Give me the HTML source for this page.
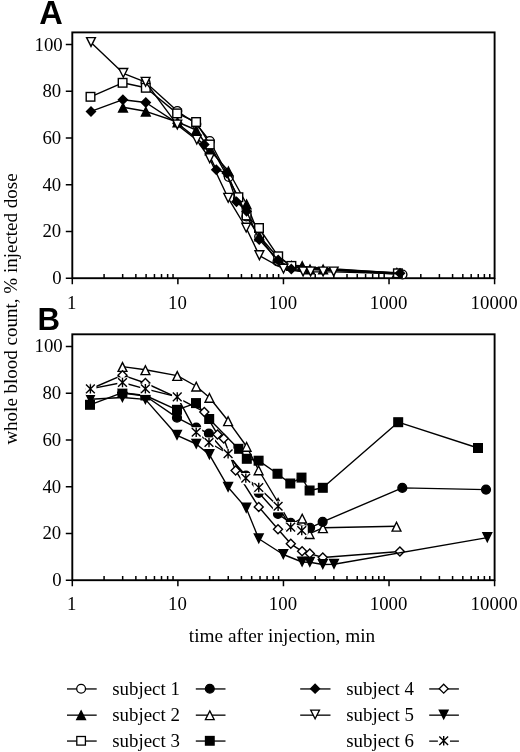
<!DOCTYPE html>
<html><head><meta charset="utf-8"><title>Figure</title>
<style>html,body{margin:0;padding:0;background:#fff}svg{display:block;will-change:transform}</style>
</head><body>
<svg width="520" height="752" viewBox="0 0 520 752">
<rect width="520" height="752" fill="#fff"/>
<rect x="72.3" y="32.4" width="422.3" height="245.8" fill="none" stroke="#000" stroke-width="1.9"/>
<rect x="72.3" y="334.3" width="422.3" height="245.9" fill="none" stroke="#000" stroke-width="1.9"/>
<path d="M72.3 278.2V284.2M104.08 278.2V274M122.67 278.2V274M135.86 278.2V274M146.09 278.2V274M154.45 278.2V274M161.52 278.2V274M167.64 278.2V274M173.04 278.2V274M177.88 278.2V284.2M209.66 278.2V274M228.25 278.2V274M241.44 278.2V274M251.67 278.2V274M260.03 278.2V274M267.1 278.2V274M273.22 278.2V274M278.62 278.2V274M283.45 278.2V284.2M315.23 278.2V274M333.82 278.2V274M347.01 278.2V274M357.24 278.2V274M365.6 278.2V274M372.67 278.2V274M378.79 278.2V274M384.19 278.2V274M389.03 278.2V284.2M420.81 278.2V274M439.4 278.2V274M452.59 278.2V274M462.82 278.2V274M471.18 278.2V274M478.25 278.2V274M484.37 278.2V274M489.77 278.2V274M494.6 278.2V284.2M65.8 278.2H72.3M65.8 231.48H72.3M65.8 184.76H72.3M65.8 138.04H72.3M65.8 91.32H72.3M65.8 44.6H72.3M72.3 580.2V586.2M104.08 580.2V576M122.67 580.2V576M135.86 580.2V576M146.09 580.2V576M154.45 580.2V576M161.52 580.2V576M167.64 580.2V576M173.04 580.2V576M177.88 580.2V586.2M209.66 580.2V576M228.25 580.2V576M241.44 580.2V576M251.67 580.2V576M260.03 580.2V576M267.1 580.2V576M273.22 580.2V576M278.62 580.2V576M283.45 580.2V586.2M315.23 580.2V576M333.82 580.2V576M347.01 580.2V576M357.24 580.2V576M365.6 580.2V576M372.67 580.2V576M378.79 580.2V576M384.19 580.2V576M389.03 580.2V586.2M420.81 580.2V576M439.4 580.2V576M452.59 580.2V576M462.82 580.2V576M471.18 580.2V576M478.25 580.2V576M484.37 580.2V576M489.77 580.2V576M494.6 580.2V586.2M65.8 580.2H72.3M65.8 533.44H72.3M65.8 486.68H72.3M65.8 439.92H72.3M65.8 393.16H72.3M65.8 346.4H72.3" fill="none" stroke="#000" stroke-width="1.5"/>
<g style="font-family:'Liberation Serif',serif;font-size:18.8px;fill:#000">
<text x="61.7" y="284.2" text-anchor="end">0</text>
<text x="61.2" y="237.48" text-anchor="end">20</text>
<text x="61.2" y="190.76" text-anchor="end">40</text>
<text x="61.2" y="144.04" text-anchor="end">60</text>
<text x="61.2" y="97.32" text-anchor="end">80</text>
<text x="62.7" y="50.6" text-anchor="end">100</text>
<text x="71.8" y="308.8" text-anchor="middle">1</text>
<text x="177.38" y="308.8" text-anchor="middle">10</text>
<text x="282.95" y="308.8" text-anchor="middle">100</text>
<text x="388.53" y="308.8" text-anchor="middle">1000</text>
<text x="494.1" y="308.8" text-anchor="middle">10000</text>
<text x="61.7" y="586.2" text-anchor="end">0</text>
<text x="61.2" y="539.44" text-anchor="end">20</text>
<text x="61.2" y="492.68" text-anchor="end">40</text>
<text x="61.2" y="445.92" text-anchor="end">60</text>
<text x="61.2" y="399.16" text-anchor="end">80</text>
<text x="62.7" y="352.4" text-anchor="end">100</text>
<text x="71.8" y="609.9" text-anchor="middle">1</text>
<text x="177.38" y="609.9" text-anchor="middle">10</text>
<text x="282.95" y="609.9" text-anchor="middle">100</text>
<text x="388.53" y="609.9" text-anchor="middle">1000</text>
<text x="494.1" y="609.9" text-anchor="middle">10000</text>
<text x="282" y="642" text-anchor="middle" style="font-size:19.3px">time after injection, min</text>
<text transform="translate(16.6 309) rotate(-90)" text-anchor="middle" style="font-size:19px">whole blood count, % injected dose</text>
</g>
<g style="font-family:'Liberation Sans',sans-serif;font-weight:bold;font-size:31.5px;fill:#000">
<text x="39.2" y="24.1" style="font-size:32.6px">A</text>
<text x="37.4" y="330" style="font-size:31.2px">B</text>
</g>
<g>
<polyline points="145.5,82.3 177.3,111 196.3,124 209.8,141 228.8,177 238,199 246.4,216.5 259.2,236.5 277.5,261.5 291.5,267 402.5,274.5" fill="none" stroke="#000" stroke-width="1.4" stroke-linejoin="round"/><circle cx="145.5" cy="82.3" r="4.4" fill="#fff" stroke="#000" stroke-width="1.4"/><circle cx="177.3" cy="111" r="4.4" fill="#fff" stroke="#000" stroke-width="1.4"/><circle cx="196.3" cy="124" r="4.4" fill="#fff" stroke="#000" stroke-width="1.4"/><circle cx="209.8" cy="141" r="4.4" fill="#fff" stroke="#000" stroke-width="1.4"/><circle cx="228.8" cy="177" r="4.4" fill="#fff" stroke="#000" stroke-width="1.4"/><circle cx="238" cy="199" r="4.4" fill="#fff" stroke="#000" stroke-width="1.4"/><circle cx="246.4" cy="216.5" r="4.4" fill="#fff" stroke="#000" stroke-width="1.4"/><circle cx="259.2" cy="236.5" r="4.4" fill="#fff" stroke="#000" stroke-width="1.4"/><circle cx="277.5" cy="261.5" r="4.4" fill="#fff" stroke="#000" stroke-width="1.4"/><circle cx="291.5" cy="267" r="4.4" fill="#fff" stroke="#000" stroke-width="1.4"/><circle cx="402.5" cy="274.5" r="4.4" fill="#fff" stroke="#000" stroke-width="1.4"/>

<polyline points="123,107.2 145.8,111.3 177.5,122 196.2,130 209.8,150 228.4,171 246.6,204 259.3,236 278.3,258 291.4,265.5 302.2,265.7 310,269 323.1,269 396.9,272.6" fill="none" stroke="#000" stroke-width="1.4" stroke-linejoin="round"/><path d="M123 103.2L127.4 112L118.6 112Z" fill="#000" stroke="#000" stroke-width="1.4" stroke-linejoin="miter"/><path d="M145.8 107.3L150.2 116.1L141.4 116.1Z" fill="#000" stroke="#000" stroke-width="1.4" stroke-linejoin="miter"/><path d="M177.5 118L181.9 126.8L173.1 126.8Z" fill="#000" stroke="#000" stroke-width="1.4" stroke-linejoin="miter"/><path d="M196.2 126L200.6 134.8L191.8 134.8Z" fill="#000" stroke="#000" stroke-width="1.4" stroke-linejoin="miter"/><path d="M209.8 146L214.2 154.8L205.4 154.8Z" fill="#000" stroke="#000" stroke-width="1.4" stroke-linejoin="miter"/><path d="M228.4 167L232.8 175.8L224 175.8Z" fill="#000" stroke="#000" stroke-width="1.4" stroke-linejoin="miter"/><path d="M246.6 200L251 208.8L242.2 208.8Z" fill="#000" stroke="#000" stroke-width="1.4" stroke-linejoin="miter"/><path d="M259.3 232L263.7 240.8L254.9 240.8Z" fill="#000" stroke="#000" stroke-width="1.4" stroke-linejoin="miter"/><path d="M278.3 254L282.7 262.8L273.9 262.8Z" fill="#000" stroke="#000" stroke-width="1.4" stroke-linejoin="miter"/><path d="M291.4 261.5L295.8 270.3L287 270.3Z" fill="#000" stroke="#000" stroke-width="1.4" stroke-linejoin="miter"/><path d="M302.2 261.7L306.6 270.5L297.8 270.5Z" fill="#000" stroke="#000" stroke-width="1.4" stroke-linejoin="miter"/><path d="M310 265L314.4 273.8L305.6 273.8Z" fill="#000" stroke="#000" stroke-width="1.4" stroke-linejoin="miter"/><path d="M323.1 265L327.5 273.8L318.7 273.8Z" fill="#000" stroke="#000" stroke-width="1.4" stroke-linejoin="miter"/><path d="M396.9 268.6L401.3 277.4L392.5 277.4Z" fill="#000" stroke="#000" stroke-width="1.4" stroke-linejoin="miter"/>

<polyline points="90.5,96.8 122.6,82.8 145.8,87.8 177.1,113.4 196.1,122 209.8,144.5 238.4,197.2 246.6,215.5 259,228 278.2,256.3 291.4,265.9 397.9,273.3" fill="none" stroke="#000" stroke-width="1.4" stroke-linejoin="round"/><rect x="86.2" y="92.5" width="8.6" height="8.6" fill="#fff" stroke="#000" stroke-width="1.4"/><rect x="118.3" y="78.5" width="8.6" height="8.6" fill="#fff" stroke="#000" stroke-width="1.4"/><rect x="141.5" y="83.5" width="8.6" height="8.6" fill="#fff" stroke="#000" stroke-width="1.4"/><rect x="172.8" y="109.1" width="8.6" height="8.6" fill="#fff" stroke="#000" stroke-width="1.4"/><rect x="191.8" y="117.7" width="8.6" height="8.6" fill="#fff" stroke="#000" stroke-width="1.4"/><rect x="205.5" y="140.2" width="8.6" height="8.6" fill="#fff" stroke="#000" stroke-width="1.4"/><rect x="234.1" y="192.9" width="8.6" height="8.6" fill="#fff" stroke="#000" stroke-width="1.4"/><rect x="242.3" y="211.2" width="8.6" height="8.6" fill="#fff" stroke="#000" stroke-width="1.4"/><rect x="254.7" y="223.7" width="8.6" height="8.6" fill="#fff" stroke="#000" stroke-width="1.4"/><rect x="273.9" y="252" width="8.6" height="8.6" fill="#fff" stroke="#000" stroke-width="1.4"/><rect x="287.1" y="261.6" width="8.6" height="8.6" fill="#fff" stroke="#000" stroke-width="1.4"/><rect x="393.6" y="269" width="8.6" height="8.6" fill="#fff" stroke="#000" stroke-width="1.4"/>

<polyline points="91,111.4 122.9,99.7 145.8,102.5 177.5,123.3 204.2,144.6 216.3,169.7 226.8,173 236.5,201.8 246.6,211.3 259.2,239.6 278.2,260.1 291.3,268.9 400,273.2" fill="none" stroke="#000" stroke-width="1.4" stroke-linejoin="round"/><path d="M91 106.9L95.5 111.4L91 115.9L86.5 111.4Z" fill="#000" stroke="#000" stroke-width="1.4"/><path d="M122.9 95.2L127.4 99.7L122.9 104.2L118.4 99.7Z" fill="#000" stroke="#000" stroke-width="1.4"/><path d="M145.8 98L150.3 102.5L145.8 107L141.3 102.5Z" fill="#000" stroke="#000" stroke-width="1.4"/><path d="M177.5 118.8L182 123.3L177.5 127.8L173 123.3Z" fill="#000" stroke="#000" stroke-width="1.4"/><path d="M204.2 140.1L208.7 144.6L204.2 149.1L199.7 144.6Z" fill="#000" stroke="#000" stroke-width="1.4"/><path d="M216.3 165.2L220.8 169.7L216.3 174.2L211.8 169.7Z" fill="#000" stroke="#000" stroke-width="1.4"/><path d="M226.8 168.5L231.3 173L226.8 177.5L222.3 173Z" fill="#000" stroke="#000" stroke-width="1.4"/><path d="M236.5 197.3L241 201.8L236.5 206.3L232 201.8Z" fill="#000" stroke="#000" stroke-width="1.4"/><path d="M246.6 206.8L251.1 211.3L246.6 215.8L242.1 211.3Z" fill="#000" stroke="#000" stroke-width="1.4"/><path d="M259.2 235.1L263.7 239.6L259.2 244.1L254.7 239.6Z" fill="#000" stroke="#000" stroke-width="1.4"/><path d="M278.2 255.6L282.7 260.1L278.2 264.6L273.7 260.1Z" fill="#000" stroke="#000" stroke-width="1.4"/><path d="M291.3 264.4L295.8 268.9L291.3 273.4L286.8 268.9Z" fill="#000" stroke="#000" stroke-width="1.4"/><path d="M400 268.7L404.5 273.2L400 277.7L395.5 273.2Z" fill="#000" stroke="#000" stroke-width="1.4"/>

<polyline points="91,42.4 123.3,73.3 145.6,82.2 177.3,124.9 196.8,140 209.7,158.7 228.2,198.2 246.2,228 259.4,255.6 283.5,269 303.1,271.9 310.6,271.9 323.1,271.9 333.7,271.9 398.5,273.8" fill="none" stroke="#000" stroke-width="1.4" stroke-linejoin="round"/><path d="M86.6 37.6L95.4 37.6L91 46.4Z" fill="#fff" stroke="#000" stroke-width="1.4" stroke-linejoin="miter"/><path d="M118.9 68.5L127.7 68.5L123.3 77.3Z" fill="#fff" stroke="#000" stroke-width="1.4" stroke-linejoin="miter"/><path d="M141.2 77.4L150 77.4L145.6 86.2Z" fill="#fff" stroke="#000" stroke-width="1.4" stroke-linejoin="miter"/><path d="M172.9 120.1L181.7 120.1L177.3 128.9Z" fill="#fff" stroke="#000" stroke-width="1.4" stroke-linejoin="miter"/><path d="M192.4 135.2L201.2 135.2L196.8 144Z" fill="#fff" stroke="#000" stroke-width="1.4" stroke-linejoin="miter"/><path d="M205.3 153.9L214.1 153.9L209.7 162.7Z" fill="#fff" stroke="#000" stroke-width="1.4" stroke-linejoin="miter"/><path d="M223.8 193.4L232.6 193.4L228.2 202.2Z" fill="#fff" stroke="#000" stroke-width="1.4" stroke-linejoin="miter"/><path d="M241.8 223.2L250.6 223.2L246.2 232Z" fill="#fff" stroke="#000" stroke-width="1.4" stroke-linejoin="miter"/><path d="M255 250.8L263.8 250.8L259.4 259.6Z" fill="#fff" stroke="#000" stroke-width="1.4" stroke-linejoin="miter"/><path d="M279.1 264.2L287.9 264.2L283.5 273Z" fill="#fff" stroke="#000" stroke-width="1.4" stroke-linejoin="miter"/><path d="M298.7 267.1L307.5 267.1L303.1 275.9Z" fill="#fff" stroke="#000" stroke-width="1.4" stroke-linejoin="miter"/><path d="M306.2 267.1L315 267.1L310.6 275.9Z" fill="#fff" stroke="#000" stroke-width="1.4" stroke-linejoin="miter"/><path d="M318.7 267.1L327.5 267.1L323.1 275.9Z" fill="#fff" stroke="#000" stroke-width="1.4" stroke-linejoin="miter"/><path d="M329.3 267.1L338.1 267.1L333.7 275.9Z" fill="#fff" stroke="#000" stroke-width="1.4" stroke-linejoin="miter"/>

</g>
<g>
<polyline points="90,404.8 122.4,392.7 145.4,395.5 177,409.8 196,403.1 209.2,419 238.4,448.8 246.8,458.8 258.6,460.7 277.5,473.75 290.3,483.5 301.5,477.6 309.6,490.5 322.8,487.8 398.2,422.2 478,448" fill="none" stroke="#000" stroke-width="1.4" stroke-linejoin="round"/><rect x="85.7" y="400.5" width="8.6" height="8.6" fill="#000" stroke="#000" stroke-width="1.4"/><rect x="118.1" y="388.4" width="8.6" height="8.6" fill="#000" stroke="#000" stroke-width="1.4"/><rect x="141.1" y="391.2" width="8.6" height="8.6" fill="#000" stroke="#000" stroke-width="1.4"/><rect x="172.7" y="405.5" width="8.6" height="8.6" fill="#000" stroke="#000" stroke-width="1.4"/><rect x="191.7" y="398.8" width="8.6" height="8.6" fill="#000" stroke="#000" stroke-width="1.4"/><rect x="204.9" y="414.7" width="8.6" height="8.6" fill="#000" stroke="#000" stroke-width="1.4"/><rect x="234.1" y="444.5" width="8.6" height="8.6" fill="#000" stroke="#000" stroke-width="1.4"/><rect x="242.5" y="454.5" width="8.6" height="8.6" fill="#000" stroke="#000" stroke-width="1.4"/><rect x="254.3" y="456.4" width="8.6" height="8.6" fill="#000" stroke="#000" stroke-width="1.4"/><rect x="273.2" y="469.45" width="8.6" height="8.6" fill="#000" stroke="#000" stroke-width="1.4"/><rect x="286" y="479.2" width="8.6" height="8.6" fill="#000" stroke="#000" stroke-width="1.4"/><rect x="297.2" y="473.3" width="8.6" height="8.6" fill="#000" stroke="#000" stroke-width="1.4"/><rect x="305.3" y="486.2" width="8.6" height="8.6" fill="#000" stroke="#000" stroke-width="1.4"/><rect x="318.5" y="483.5" width="8.6" height="8.6" fill="#000" stroke="#000" stroke-width="1.4"/><rect x="393.9" y="417.9" width="8.6" height="8.6" fill="#000" stroke="#000" stroke-width="1.4"/><rect x="473.7" y="443.7" width="8.6" height="8.6" fill="#000" stroke="#000" stroke-width="1.4"/>

<polyline points="122.5,366.6 145.4,369.8 177.25,375.6 196.25,386.25 209.4,397.5 228.1,420.8 246.6,446.5 258.6,470 278.1,502.5 290.7,524.5 302.2,518.2 309.6,533.7 322.9,527.8 396.5,526.3" fill="none" stroke="#000" stroke-width="1.4" stroke-linejoin="round"/><path d="M122.5 362.6L126.9 371.4L118.1 371.4Z" fill="#fff" stroke="#000" stroke-width="1.4" stroke-linejoin="miter"/><path d="M145.4 365.8L149.8 374.6L141 374.6Z" fill="#fff" stroke="#000" stroke-width="1.4" stroke-linejoin="miter"/><path d="M177.25 371.6L181.65 380.4L172.85 380.4Z" fill="#fff" stroke="#000" stroke-width="1.4" stroke-linejoin="miter"/><path d="M196.25 382.25L200.65 391.05L191.85 391.05Z" fill="#fff" stroke="#000" stroke-width="1.4" stroke-linejoin="miter"/><path d="M209.4 393.5L213.8 402.3L205 402.3Z" fill="#fff" stroke="#000" stroke-width="1.4" stroke-linejoin="miter"/><path d="M228.1 416.8L232.5 425.6L223.7 425.6Z" fill="#fff" stroke="#000" stroke-width="1.4" stroke-linejoin="miter"/><path d="M246.6 442.5L251 451.3L242.2 451.3Z" fill="#fff" stroke="#000" stroke-width="1.4" stroke-linejoin="miter"/><path d="M258.6 466L263 474.8L254.2 474.8Z" fill="#fff" stroke="#000" stroke-width="1.4" stroke-linejoin="miter"/><path d="M278.1 498.5L282.5 507.3L273.7 507.3Z" fill="#fff" stroke="#000" stroke-width="1.4" stroke-linejoin="miter"/><path d="M290.7 520.5L295.1 529.3L286.3 529.3Z" fill="#fff" stroke="#000" stroke-width="1.4" stroke-linejoin="miter"/><path d="M302.2 514.2L306.6 523L297.8 523Z" fill="#fff" stroke="#000" stroke-width="1.4" stroke-linejoin="miter"/><path d="M309.6 529.7L314 538.5L305.2 538.5Z" fill="#fff" stroke="#000" stroke-width="1.4" stroke-linejoin="miter"/><path d="M322.9 523.8L327.3 532.6L318.5 532.6Z" fill="#fff" stroke="#000" stroke-width="1.4" stroke-linejoin="miter"/><path d="M396.5 522.3L400.9 531.1L392.1 531.1Z" fill="#fff" stroke="#000" stroke-width="1.4" stroke-linejoin="miter"/>

<polyline points="122.4,393 145.4,396 177,417.7 196.25,427.7 208.9,433.5 246,475.7 258.75,492.8 278,514 290.7,522.8 310.1,527.8 322.65,521.8 402.3,487.9 486,489.6" fill="none" stroke="#000" stroke-width="1.4" stroke-linejoin="round"/><circle cx="122.4" cy="393" r="4.4" fill="#000" stroke="#000" stroke-width="1.4"/><circle cx="145.4" cy="396" r="4.4" fill="#000" stroke="#000" stroke-width="1.4"/><circle cx="177" cy="417.7" r="4.4" fill="#000" stroke="#000" stroke-width="1.4"/><circle cx="196.25" cy="427.7" r="4.4" fill="#000" stroke="#000" stroke-width="1.4"/><circle cx="208.9" cy="433.5" r="4.4" fill="#000" stroke="#000" stroke-width="1.4"/><circle cx="246" cy="475.7" r="4.4" fill="#000" stroke="#000" stroke-width="1.4"/><circle cx="258.75" cy="492.8" r="4.4" fill="#000" stroke="#000" stroke-width="1.4"/><circle cx="278" cy="514" r="4.4" fill="#000" stroke="#000" stroke-width="1.4"/><circle cx="290.7" cy="522.8" r="4.4" fill="#000" stroke="#000" stroke-width="1.4"/><circle cx="310.1" cy="527.8" r="4.4" fill="#000" stroke="#000" stroke-width="1.4"/><circle cx="322.65" cy="521.8" r="4.4" fill="#000" stroke="#000" stroke-width="1.4"/><circle cx="402.3" cy="487.9" r="4.4" fill="#000" stroke="#000" stroke-width="1.4"/><circle cx="486" cy="489.6" r="4.4" fill="#000" stroke="#000" stroke-width="1.4"/>

<polyline points="90.4,389 122.5,375.2 145.4,383 177.25,397.6 204.3,411.9 217.5,434.4 223.75,438.5 235.6,470.6 258.75,506.9 278,529.3 290.8,543.8 302.1,551.3 309.8,553.6 322.8,557.5 399.9,551.5" fill="none" stroke="#000" stroke-width="1.4" stroke-linejoin="round"/><path d="M90.4 384.5L94.9 389L90.4 393.5L85.9 389Z" fill="#fff" stroke="#000" stroke-width="1.4"/><path d="M122.5 370.7L127 375.2L122.5 379.7L118 375.2Z" fill="#fff" stroke="#000" stroke-width="1.4"/><path d="M145.4 378.5L149.9 383L145.4 387.5L140.9 383Z" fill="#fff" stroke="#000" stroke-width="1.4"/><path d="M177.25 393.1L181.75 397.6L177.25 402.1L172.75 397.6Z" fill="#fff" stroke="#000" stroke-width="1.4"/><path d="M204.3 407.4L208.8 411.9L204.3 416.4L199.8 411.9Z" fill="#fff" stroke="#000" stroke-width="1.4"/><path d="M217.5 429.9L222 434.4L217.5 438.9L213 434.4Z" fill="#fff" stroke="#000" stroke-width="1.4"/><path d="M223.75 434L228.25 438.5L223.75 443L219.25 438.5Z" fill="#fff" stroke="#000" stroke-width="1.4"/><path d="M235.6 466.1L240.1 470.6L235.6 475.1L231.1 470.6Z" fill="#fff" stroke="#000" stroke-width="1.4"/><path d="M258.75 502.4L263.25 506.9L258.75 511.4L254.25 506.9Z" fill="#fff" stroke="#000" stroke-width="1.4"/><path d="M278 524.8L282.5 529.3L278 533.8L273.5 529.3Z" fill="#fff" stroke="#000" stroke-width="1.4"/><path d="M290.8 539.3L295.3 543.8L290.8 548.3L286.3 543.8Z" fill="#fff" stroke="#000" stroke-width="1.4"/><path d="M302.1 546.8L306.6 551.3L302.1 555.8L297.6 551.3Z" fill="#fff" stroke="#000" stroke-width="1.4"/><path d="M309.8 549.1L314.3 553.6L309.8 558.1L305.3 553.6Z" fill="#fff" stroke="#000" stroke-width="1.4"/><path d="M322.8 553L327.3 557.5L322.8 562L318.3 557.5Z" fill="#fff" stroke="#000" stroke-width="1.4"/><path d="M399.9 547L404.4 551.5L399.9 556L395.4 551.5Z" fill="#fff" stroke="#000" stroke-width="1.4"/>

<polyline points="90.5,399.3 122.4,397.5 145.4,399.4 177,435.3 196.25,444 209.4,454.6 228.1,487.2 246.25,508.1 258.75,538.75 283.3,554.5 302.1,562 309.8,562.3 322.8,564.5 334,564.2 487.3,537.6" fill="none" stroke="#000" stroke-width="1.4" stroke-linejoin="round"/><path d="M86.1 394.5L94.9 394.5L90.5 403.3Z" fill="#000" stroke="#000" stroke-width="1.4" stroke-linejoin="miter"/><path d="M118 392.7L126.8 392.7L122.4 401.5Z" fill="#000" stroke="#000" stroke-width="1.4" stroke-linejoin="miter"/><path d="M141 394.6L149.8 394.6L145.4 403.4Z" fill="#000" stroke="#000" stroke-width="1.4" stroke-linejoin="miter"/><path d="M172.6 430.5L181.4 430.5L177 439.3Z" fill="#000" stroke="#000" stroke-width="1.4" stroke-linejoin="miter"/><path d="M191.85 439.2L200.65 439.2L196.25 448Z" fill="#000" stroke="#000" stroke-width="1.4" stroke-linejoin="miter"/><path d="M205 449.8L213.8 449.8L209.4 458.6Z" fill="#000" stroke="#000" stroke-width="1.4" stroke-linejoin="miter"/><path d="M223.7 482.4L232.5 482.4L228.1 491.2Z" fill="#000" stroke="#000" stroke-width="1.4" stroke-linejoin="miter"/><path d="M241.85 503.3L250.65 503.3L246.25 512.1Z" fill="#000" stroke="#000" stroke-width="1.4" stroke-linejoin="miter"/><path d="M254.35 533.95L263.15 533.95L258.75 542.75Z" fill="#000" stroke="#000" stroke-width="1.4" stroke-linejoin="miter"/><path d="M278.9 549.7L287.7 549.7L283.3 558.5Z" fill="#000" stroke="#000" stroke-width="1.4" stroke-linejoin="miter"/><path d="M297.7 557.2L306.5 557.2L302.1 566Z" fill="#000" stroke="#000" stroke-width="1.4" stroke-linejoin="miter"/><path d="M305.4 557.5L314.2 557.5L309.8 566.3Z" fill="#000" stroke="#000" stroke-width="1.4" stroke-linejoin="miter"/><path d="M318.4 559.7L327.2 559.7L322.8 568.5Z" fill="#000" stroke="#000" stroke-width="1.4" stroke-linejoin="miter"/><path d="M329.6 559.4L338.4 559.4L334 568.2Z" fill="#000" stroke="#000" stroke-width="1.4" stroke-linejoin="miter"/><path d="M482.9 532.8L491.7 532.8L487.3 541.6Z" fill="#000" stroke="#000" stroke-width="1.4" stroke-linejoin="miter"/>

<polyline points="90.4,388.9 122.5,382.5 145.4,388.8 177.25,396.9 196.2,432.3 209,442.5 228.1,453.75 245.8,478.1 258.75,487.5 278.1,506.25 290.7,527.1 301.75,530.5" fill="none" stroke="#000" stroke-width="1.4" stroke-linejoin="round"/><rect x="85.2" y="383.8" width="11.2" height="11.2" fill="#fff"/><path d="M86 384.6L94.8 393.2M86 393.2L94.8 384.6M90.4 384.2L90.4 393.6" fill="none" stroke="#000" stroke-width="1.4"/><rect x="117.3" y="377.4" width="11.2" height="11.2" fill="#fff"/><path d="M118.1 378.2L126.9 386.8M118.1 386.8L126.9 378.2M122.5 377.8L122.5 387.2" fill="none" stroke="#000" stroke-width="1.4"/><rect x="140.2" y="383.7" width="11.2" height="11.2" fill="#fff"/><path d="M141 384.5L149.8 393.1M141 393.1L149.8 384.5M145.4 384.1L145.4 393.5" fill="none" stroke="#000" stroke-width="1.4"/><rect x="172.05" y="391.8" width="11.2" height="11.2" fill="#fff"/><path d="M172.85 392.6L181.65 401.2M172.85 401.2L181.65 392.6M177.25 392.2L177.25 401.6" fill="none" stroke="#000" stroke-width="1.4"/><rect x="191" y="427.2" width="11.2" height="11.2" fill="#fff"/><path d="M191.8 428L200.6 436.6M191.8 436.6L200.6 428M196.2 427.6L196.2 437" fill="none" stroke="#000" stroke-width="1.4"/><rect x="203.8" y="437.4" width="11.2" height="11.2" fill="#fff"/><path d="M204.6 438.2L213.4 446.8M204.6 446.8L213.4 438.2M209 437.8L209 447.2" fill="none" stroke="#000" stroke-width="1.4"/><rect x="222.9" y="448.65" width="11.2" height="11.2" fill="#fff"/><path d="M223.7 449.45L232.5 458.05M223.7 458.05L232.5 449.45M228.1 449.05L228.1 458.45" fill="none" stroke="#000" stroke-width="1.4"/><rect x="240.6" y="473" width="11.2" height="11.2" fill="#fff"/><path d="M241.4 473.8L250.2 482.4M241.4 482.4L250.2 473.8M245.8 473.4L245.8 482.8" fill="none" stroke="#000" stroke-width="1.4"/><rect x="253.55" y="482.4" width="11.2" height="11.2" fill="#fff"/><path d="M254.35 483.2L263.15 491.8M254.35 491.8L263.15 483.2M258.75 482.8L258.75 492.2" fill="none" stroke="#000" stroke-width="1.4"/><rect x="272.9" y="501.15" width="11.2" height="11.2" fill="#fff"/><path d="M273.7 501.95L282.5 510.55M273.7 510.55L282.5 501.95M278.1 501.55L278.1 510.95" fill="none" stroke="#000" stroke-width="1.4"/><rect x="285.5" y="522" width="11.2" height="11.2" fill="#fff"/><path d="M286.3 522.8L295.1 531.4M286.3 531.4L295.1 522.8M290.7 522.4L290.7 531.8" fill="none" stroke="#000" stroke-width="1.4"/><rect x="296.55" y="525.4" width="11.2" height="11.2" fill="#fff"/><path d="M297.35 526.2L306.15 534.8M297.35 534.8L306.15 526.2M301.75 525.8L301.75 535.2" fill="none" stroke="#000" stroke-width="1.4"/>

</g>
<g>
<path d="M67 688.95H96.7" stroke="#000" stroke-width="1.3" fill="none"/><circle cx="81.1" cy="688.7" r="4.4" fill="#fff" stroke="#000" stroke-width="1.3"/>
<path d="M195.8 688.95H225.5" stroke="#000" stroke-width="1.3" fill="none"/><circle cx="209.8" cy="688.7" r="4.4" fill="#000" stroke="#000" stroke-width="1.3"/>
<path d="M300.2 688.95H330.5" stroke="#000" stroke-width="1.3" fill="none"/><path d="M315.1 684.2L319.6 688.7L315.1 693.2L310.6 688.7Z" fill="#000" stroke="#000" stroke-width="1.3"/>
<path d="M429.2 688.95H458.9" stroke="#000" stroke-width="1.3" fill="none"/><path d="M443.7 684.2L448.2 688.7L443.7 693.2L439.2 688.7Z" fill="#fff" stroke="#000" stroke-width="1.3"/>
<path d="M67 715.15H96.7" stroke="#000" stroke-width="1.3" fill="none"/><path d="M81.1 710.9L85.5 719.7L76.7 719.7Z" fill="#000" stroke="#000" stroke-width="1.3" stroke-linejoin="miter"/>
<path d="M195.8 715.15H225.5" stroke="#000" stroke-width="1.3" fill="none"/><path d="M209.8 710.9L214.2 719.7L205.4 719.7Z" fill="#fff" stroke="#000" stroke-width="1.3" stroke-linejoin="miter"/>
<path d="M300.2 715.15H330.5" stroke="#000" stroke-width="1.3" fill="none"/><path d="M310.7 710.1L319.5 710.1L315.1 718.9Z" fill="#fff" stroke="#000" stroke-width="1.3" stroke-linejoin="miter"/>
<path d="M429.2 715.15H458.9" stroke="#000" stroke-width="1.3" fill="none"/><path d="M439.3 710.1L448.1 710.1L443.7 718.9Z" fill="#000" stroke="#000" stroke-width="1.3" stroke-linejoin="miter"/>
<path d="M67 741.05H96.7" stroke="#000" stroke-width="1.3" fill="none"/><rect x="76.8" y="736.5" width="8.6" height="8.6" fill="#fff" stroke="#000" stroke-width="1.3"/>
<path d="M195.8 741.05H225.5" stroke="#000" stroke-width="1.3" fill="none"/><rect x="205.5" y="736.5" width="8.6" height="8.6" fill="#000" stroke="#000" stroke-width="1.3"/>
<path d="M429.2 741.05H437.9M449.9 741.05H458.9" stroke="#000" stroke-width="1.3" fill="none"/><rect x="438.5" y="735.7" width="11.2" height="11.2" fill="#fff"/><path d="M439.3 736.5L448.1 745.1M439.3 745.1L448.1 736.5M443.7 736.1L443.7 745.5" fill="none" stroke="#000" stroke-width="1.4"/>
</g>
<g style="font-family:'Liberation Serif',serif;font-size:18.9px;fill:#000">
<text x="112.2" y="694.75">subject 1</text>
<text x="346.2" y="694.75">subject 4</text>
<text x="112.2" y="720.95">subject 2</text>
<text x="346.2" y="720.95">subject 5</text>
<text x="112.2" y="746.85">subject 3</text>
<text x="346.2" y="746.85">subject 6</text>
</g>
</svg>
</body></html>
